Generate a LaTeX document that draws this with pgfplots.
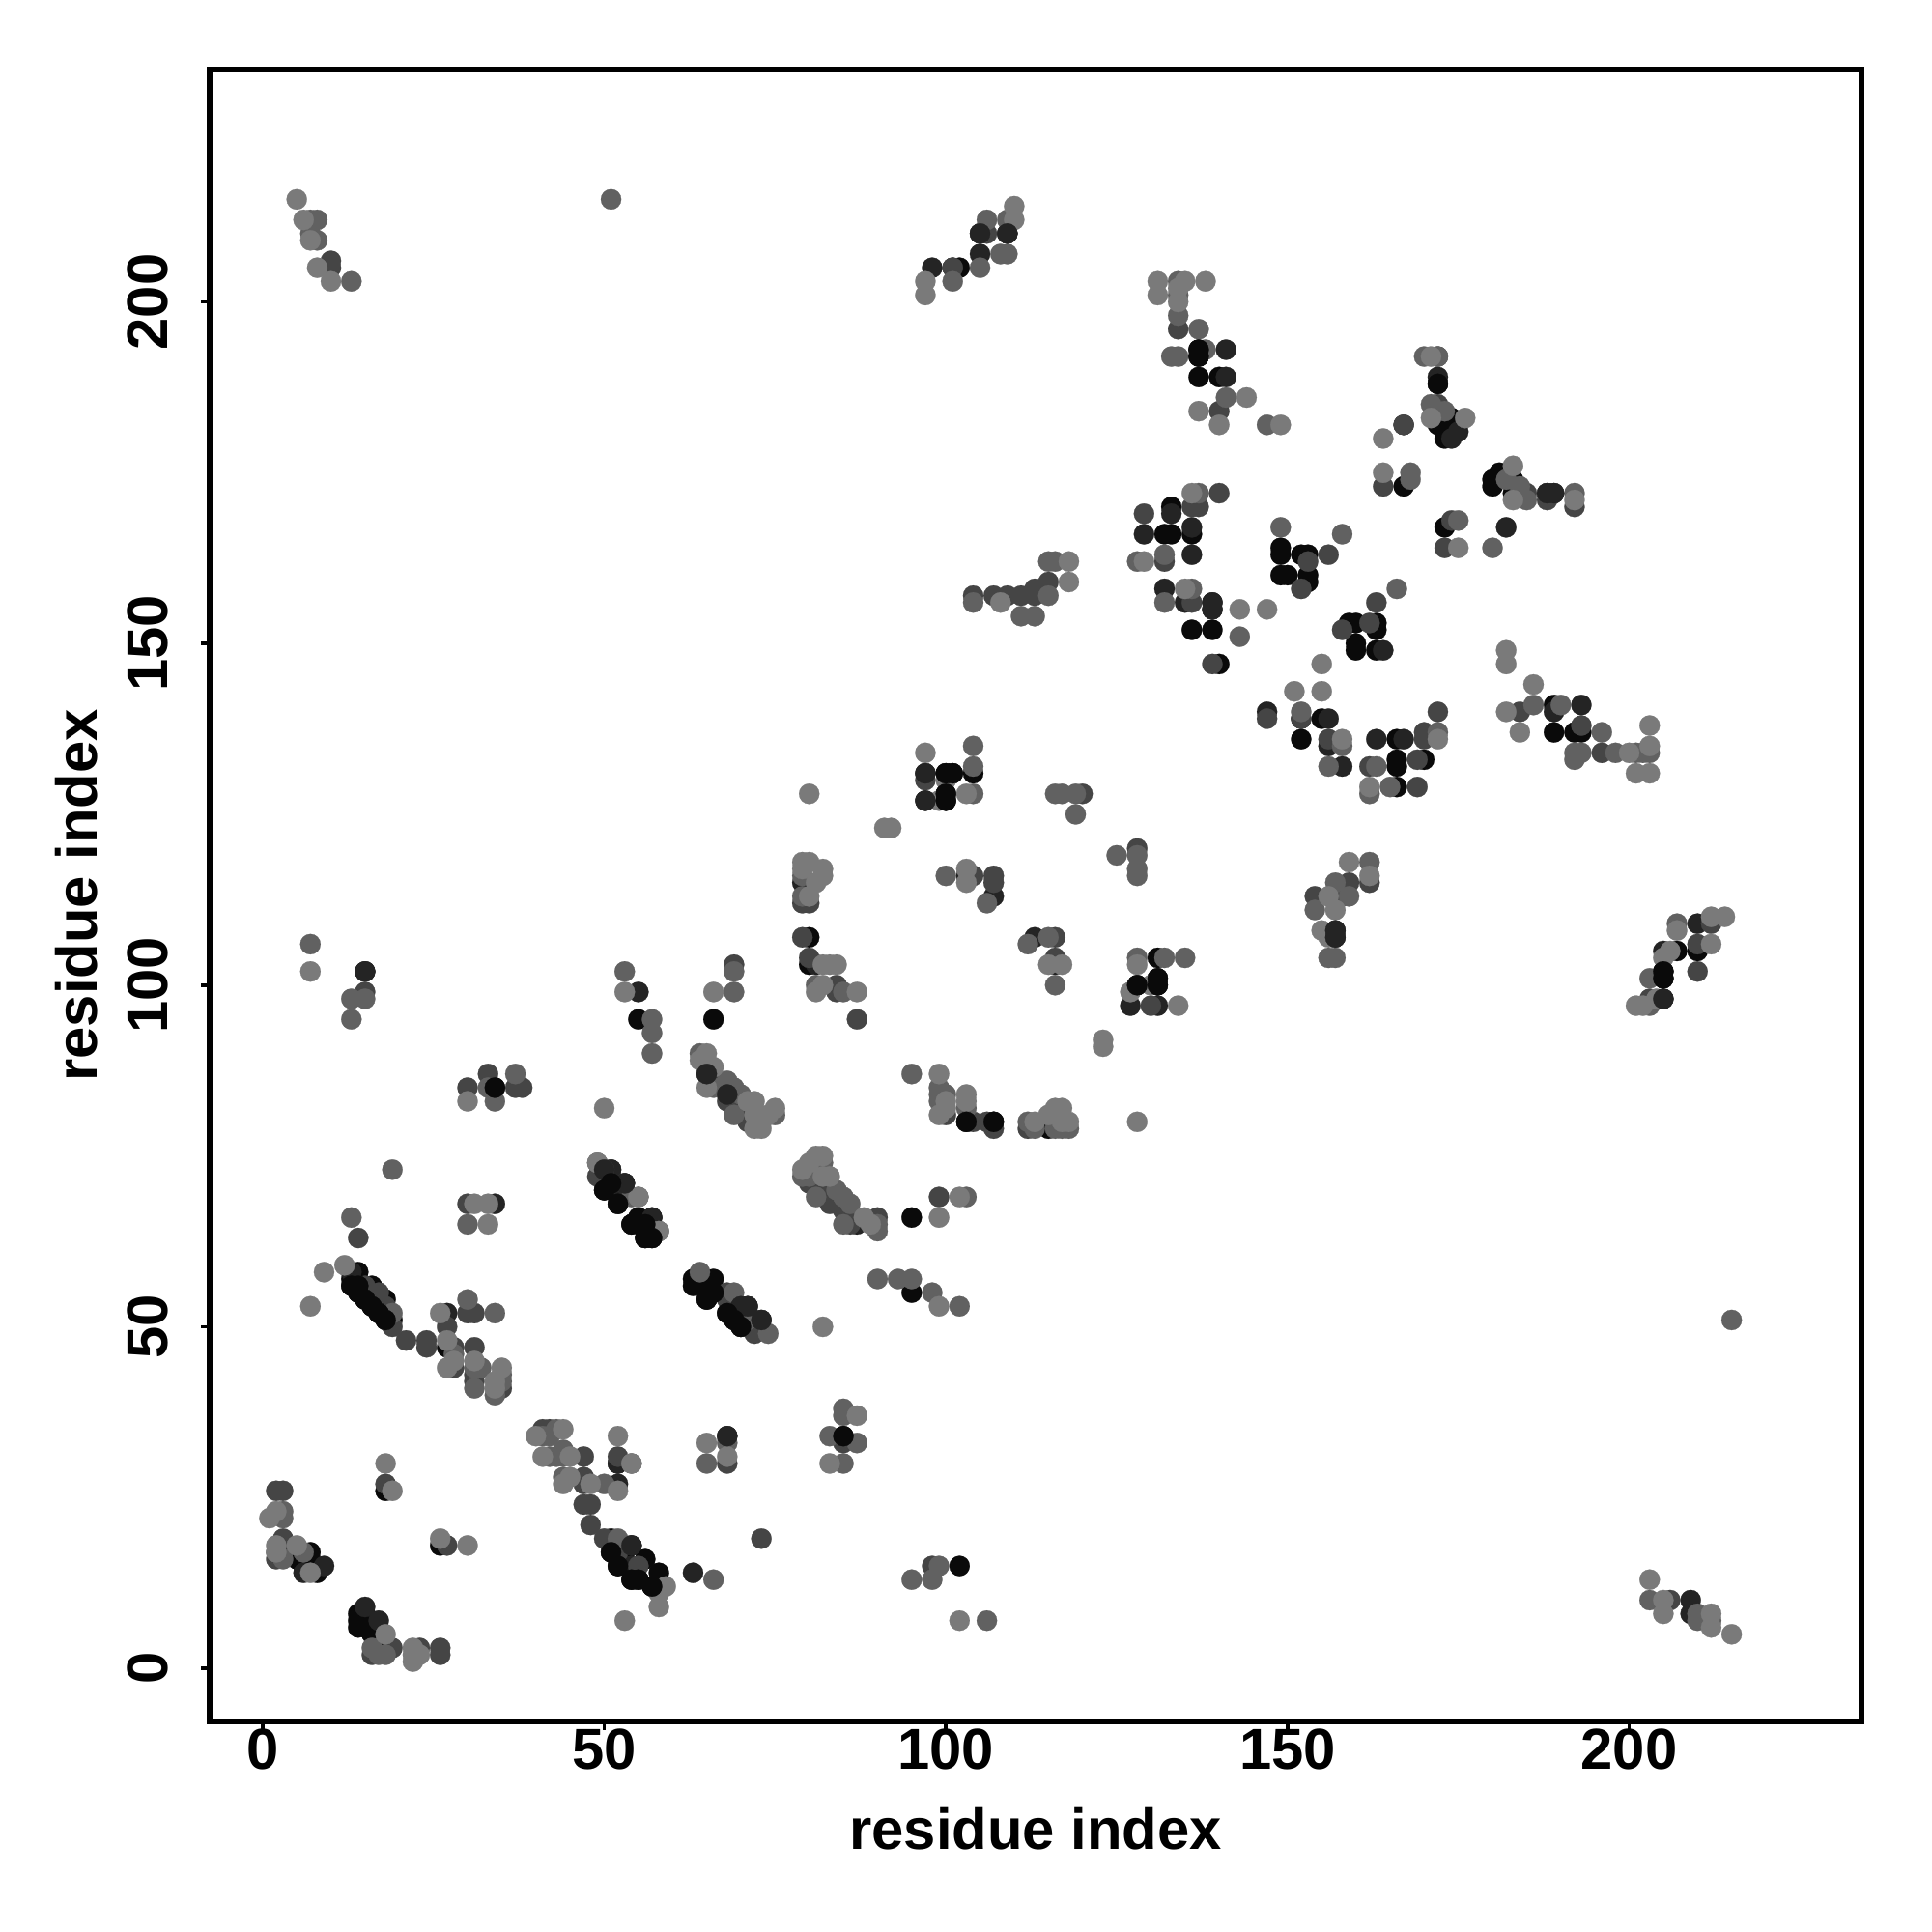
\documentclass[border=0pt]{standalone}
\usepackage{fontspec}
\setmainfont{Liberation Sans}
\usepackage{pgfplots}
\pgfplotsset{compat=1.18}
\definecolor{ga}{gray}{0.04}
\definecolor{gb}{gray}{0.14}
\definecolor{gc}{gray}{0.27}
\definecolor{gd}{gray}{0.38}
\definecolor{ge}{gray}{0.48}
\pgfplotsset{pts/.style={only marks,mark=*,mark size=2.1pt,mark options={draw=#1,line width=0.05pt,fill=#1},forget plot}}
\begin{document}
\begin{tikzpicture}
\path[use as bounding box] (-1.519,-1.526) rectangle (12.481,12.474);
\begin{axis}[
 scale only axis,width=11.97cm,height=11.97cm,
 xmin=-7.75,xmax=234,ymin=-7.75,ymax=234,
 axis line style={line width=1.3pt},
 xtick={0,50,100,150,200},ytick={0,50,100,150,200},
 tick style={black,line width=0.75pt},
 tick align=outside,major tick length=0.06cm,
 xtick pos=bottom,ytick pos=left,
 tick label style={font=\fontsize{11.9}{14}\selectfont\bfseries},
 /pgf/number format/assume math mode=true,
 yticklabel style={rotate=90,anchor=south,yshift=3.3pt},
 xticklabel style={yshift=3.6pt},
 xlabel={residue index},ylabel={residue index},
 label style={font=\fontsize{11.9}{14}\selectfont\bfseries},
 xlabel style={at={(axis description cs:0.5,-0.0649)},anchor=center},
 ylabel style={at={(axis description cs:-0.0807,0.5)},anchor=center},
 clip=true,
]
\addplot[pts=ga] coordinates {(14,58)(13,57)(13,56)(14,56)(14,55)(15,54)(16,53)(16,56)(18,54)(17,52)(18,51)(19,51)(27,47)(7,17)(7,16)(5,16)(6,15)(7,15)(8,14)(18,26)(26,18)(14,8)(15,8)(14,7)(14,6)(15,6)(16,6)(16,5)(51,19)(51,17)(54,18)(52,15)(56,16)(55,13)(54,13)(58,14)(57,12)(53,16)(50,70)(52,68)(57,66)(54,65)(56,65)(56,63)(57,63)(55,66)(51,71)(56,64)(55,95)(66,95)(63,57)(63,56)(66,57)(65,56)(65,54)(66,55)(68,52)(70,50)(69,51)(95,66)(95,55)(103,80)(107,80)(115,79)(85,34)(34,85)(15,102)(102,205)(137,193)(137,192)(137,189)(140,189)(172,188)(172,183)(174,183)(172,182)(174,181)(173,180)(167,173)(180,174)(180,173)(181,175)(183,174)(183,172)(173,167)(133,170)(132,166)(133,166)(136,166)(136,152)(139,152)(140,147)(149,164)(149,163)(152,163)(153,163)(149,160)(150,160)(153,160)(153,159)(159,153)(160,153)(163,153)(163,152)(160,150)(160,149)(163,149)(152,139)(152,136)(155,139)(166,136)(166,133)(166,132)(170,133)(166,129)(189,141)(189,137)(192,137)(193,137)(157,113)(205,101)(205,102)(207,105)(210,105)(100,131)(101,131)(104,131)(100,128)(100,127)(80,107)(80,103)(131,104)(128,100)(131,101)(131,100)(102,15)};
\addplot[pts=gb] coordinates {(13,58)(15,55)(27,52)(34,68)(9,15)(6,14)(15,9)(17,7)(18,3)(52,27)(52,30)(51,73)(53,71)(54,15)(63,14)(55,99)(50,73)(51,73)(52,70)(70,53)(71,53)(73,51)(65,87)(68,84)(87,65)(98,205)(101,205)(105,207)(105,210)(109,210)(141,193)(141,189)(167,182)(172,189)(175,181)(174,180)(188,172)(189,172)(182,167)(133,169)(129,166)(136,167)(136,163)(132,158)(135,156)(139,156)(139,155)(164,149)(147,140)(156,139)(156,135)(158,132)(163,136)(167,136)(189,140)(193,141)(157,108)(157,107)(205,98)(205,105)(210,109)(97,131)(97,127)(103,116)(107,113)(113,107)(116,103)(81,103)(79,115)(127,97)(131,97)(209,10)(209,8)(52,30)(57,66)(68,34)(15,102)};
\addplot[pts=gc] coordinates {(30,68)(14,63)(15,56)(17,55)(17,54)(18,53)(19,50)(21,48)(24,48)(24,47)(30,52)(31,52)(27,50)(28,47)(28,44)(31,47)(31,43)(31,42)(35,41)(3,26)(2,26)(3,19)(3,18)(2,16)(18,27)(27,18)(19,3)(16,2)(23,3)(26,3)(26,2)(41,35)(42,35)(47,31)(52,31)(47,28)(47,27)(47,24)(48,24)(48,21)(50,19)(53,18)(52,17)(55,15)(50,73)(53,71)(49,72)(69,103)(66,86)(68,83)(69,83)(71,82)(71,81)(71,80)(68,55)(68,54)(69,53)(72,50)(72,49)(80,71)(82,71)(82,70)(83,68)(84,68)(85,67)(87,66)(86,66)(86,65)(90,66)(99,69)(100,81)(104,80)(106,80)(107,79)(112,79)(68,30)(85,33)(30,85)(33,87)(37,85)(38,85)(15,99)(10,206)(10,205)(101,205)(106,210)(109,210)(134,196)(172,185)(167,182)(164,173)(185,172)(188,171)(192,170)(174,168)(173,164)(140,172)(136,170)(137,170)(129,169)(132,162)(136,156)(139,147)(156,163)(153,162)(152,158)(158,152)(162,153)(163,156)(152,139)(147,139)(156,136)(170,137)(170,136)(172,140)(162,132)(169,133)(169,129)(184,140)(193,138)(196,134)(162,115)(159,115)(154,113)(158,113)(203,98)(210,102)(210,106)(212,109)(97,130)(104,116)(107,116)(107,115)(120,128)(128,120)(80,112)(79,107)(80,104)(84,100)(84,99)(87,95)(116,107)(116,104)(130,97)(206,10)(73,19)(98,15)(104,157)(107,157)(109,157)(111,157)(113,157)(113,158)(115,159)(114,158)(79,112)(140,184)(172,192)};
\addplot[pts=gd] coordinates {(19,73)(30,65)(13,66)(19,52)(30,54)(34,52)(28,46)(31,44)(32,44)(31,41)(35,43)(35,42)(34,40)(3,23)(3,22)(2,17)(3,16)(6,17)(16,3)(17,2)(18,2)(41,34)(42,34)(43,35)(42,31)(43,31)(44,32)(44,31)(44,28)(50,27)(54,30)(52,19)(66,13)(55,69)(54,69)(49,74)(58,64)(53,102)(69,102)(69,99)(57,93)(57,90)(57,95)(64,90)(66,85)(68,86)(69,85)(70,84)(69,81)(73,80)(75,81)(64,58)(71,51)(69,55)(74,49)(79,72)(80,72)(82,74)(81,69)(84,70)(85,69)(86,68)(85,65)(90,65)(90,64)(90,57)(93,57)(95,57)(98,55)(102,53)(103,69)(95,87)(99,85)(99,84)(100,84)(99,83)(103,82)(112,80)(113,79)(116,80)(116,79)(117,79)(118,79)(68,33)(65,30)(85,38)(85,37)(83,34)(87,33)(85,30)(33,85)(34,83)(37,87)(7,106)(13,98)(15,98)(13,95)(8,212)(7,212)(7,210)(8,209)(13,203)(51,215)(215,51)(101,203)(105,205)(106,212)(108,207)(109,207)(109,212)(134,203)(134,201)(134,198)(137,196)(133,192)(134,192)(138,193)(141,186)(147,182)(170,192)(172,192)(171,185)(173,184)(168,175)(168,174)(182,174)(184,173)(185,171)(192,172)(175,168)(180,164)(137,172)(128,162)(132,163)(136,158)(132,156)(143,151)(149,167)(158,166)(166,158)(152,140)(158,135)(156,132)(172,137)(162,128)(165,129)(163,132)(186,141)(190,141)(196,137)(192,134)(193,134)(192,133)(198,134)(201,134)(202,134)(203,134)(162,118)(157,115)(159,113)(154,111)(156,104)(157,104)(203,97)(203,101)(207,109)(104,135)(104,132)(104,128)(116,128)(117,128)(119,128)(119,125)(125,119)(128,119)(128,117)(128,116)(100,116)(106,112)(79,116)(79,113)(81,100)(85,99)(112,106)(115,107)(116,100)(128,104)(132,104)(135,104)(203,10)(210,8)(210,7)(212,7)(95,13)(98,13)(99,15)(106,7)(104,156)(111,154)(113,154)(115,162)(116,162)(115,157)};
\addplot[pts=ge] coordinates {(33,68)(31,68)(33,65)(9,58)(12,59)(7,53)(26,52)(27,48)(28,45)(27,44)(31,45)(35,44)(34,42)(34,41)(2,23)(1,22)(2,18)(5,18)(2,17)(7,14)(19,26)(18,30)(30,18)(26,19)(18,5)(22,3)(22,1)(22,2)(23,2)(40,34)(44,35)(41,31)(45,31)(44,27)(45,28)(48,27)(52,26)(52,34)(54,30)(59,12)(58,9)(58,11)(53,7)(49,74)(55,69)(58,64)(53,99)(66,99)(50,82)(65,90)(64,89)(66,88)(65,85)(71,83)(72,83)(72,79)(73,79)(74,81)(75,82)(72,81)(82,75)(81,75)(80,74)(79,73)(82,72)(83,72)(88,66)(89,65)(99,53)(99,66)(102,69)(99,87)(100,83)(99,81)(100,82)(103,84)(103,83)(113,80)(115,81)(116,82)(117,82)(117,80)(118,80)(65,33)(68,31)(87,37)(83,30)(82,50)(30,83)(7,102)(5,215)(6,212)(7,209)(8,205)(10,203)(97,201)(97,203)(110,214)(110,212)(131,203)(131,201)(135,203)(138,203)(134,202)(134,200)(144,186)(137,184)(140,182)(149,182)(164,180)(171,192)(171,183)(176,183)(164,175)(183,176)(183,171)(192,171)(175,164)(136,172)(129,162)(135,158)(143,155)(147,155)(182,149)(182,147)(186,144)(155,147)(151,143)(155,143)(158,136)(172,136)(162,129)(182,140)(184,137)(200,134)(203,138)(203,135)(201,131)(203,131)(159,118)(162,116)(156,113)(157,111)(155,108)(156,107)(201,97)(202,97)(204,98)(205,104)(206,105)(212,106)(207,108)(212,110)(214,110)(97,134)(100,130)(99,127)(103,128)(80,128)(91,123)(92,123)(103,117)(103,115)(79,118)(80,118)(79,117)(82,117)(82,116)(81,115)(80,113)(82,103)(83,103)(84,103)(81,99)(82,100)(87,99)(115,103)(117,103)(128,103)(130,100)(127,99)(134,97)(123,92)(123,91)(128,80)(203,13)(205,10)(205,8)(212,8)(212,6)(215,5)(102,7)(108,156)(118,162)(118,159)};
\addplot[pts=gb] coordinates {(97,131)(105,210)(97,127)(157,108)(157,107)(205,98)(109,210)(68,34)(54,18)(50,73)(53,71)(188,172)(189,172)(70,53)(71,53)(73,51)(65,87)(68,84)(139,156)(139,155)};
\addplot[pts=ga] coordinates {(100,131)(101,131)(100,128)(100,127)(205,102)(205,101)(131,101)(131,100)(128,100)(34,85)(85,34)(172,188)(137,192)(137,193)(13,56)(14,56)(14,55)(15,54)(16,53)(17,52)(18,51)(51,17)(52,15)(54,13)(55,13)(57,12)(52,68)(54,65)(56,65)(56,63)(57,63)(65,54)(66,55)(68,52)(69,51)(70,50)(50,70)(51,71)(107,80)(103,80)};
\end{axis}
\end{tikzpicture}
\end{document}
